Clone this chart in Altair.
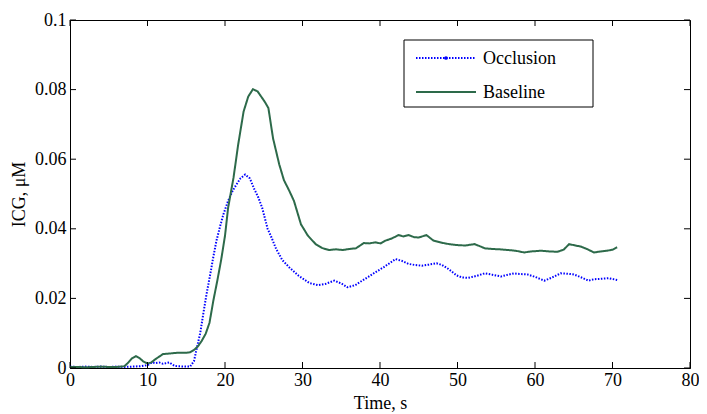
import altair as alt
import pandas as pd

# ---- data ----
t_base = [0, 1, 2, 3, 4, 5, 6, 7, 7.5, 8, 8.5, 9, 9.5, 10, 10.5, 11, 12, 13, 14, 15, 15.5, 16, 16.5, 17,
          17.5, 18, 18.5, 19, 19.5, 20, 20.4, 20.8, 21.1, 21.7, 22.4, 23, 23.6, 24.2, 25.1, 25.6, 26.2, 27,
          27.6, 28.3, 28.9, 29.8, 30.7, 31.7, 32.5, 33.4, 34.3, 35.2, 36, 36.9, 37.9, 38.6, 39.4, 40.1, 40.7,
          41.5, 42.4, 43, 43.7, 44.4, 45, 46.0, 46.9, 47.6, 48.4, 49.2, 50.1, 51, 52.2, 53, 53.5, 54.5, 55.5,
          56.5, 57.5, 58.6, 59.5, 60.8, 61.8, 62.9, 63.7, 64.4, 65.2, 65.9, 66.8, 67.6, 68.5, 69.3, 70, 70.6]
v_base = [0.0003, 0.0003, 0.0002, 0.0003, 0.0004, 0.0003, 0.0003, 0.0005, 0.0015, 0.0028, 0.0034, 0.0028,
          0.0018, 0.0013, 0.0016, 0.0025, 0.0040, 0.0042, 0.0044, 0.0044, 0.0045, 0.0052, 0.0062, 0.0078,
          0.0098, 0.0130, 0.0194, 0.0250, 0.0310, 0.0380, 0.0460, 0.0510, 0.0547, 0.0642, 0.0737, 0.0780,
          0.0801, 0.0795, 0.0766, 0.0747, 0.0660, 0.0585, 0.0540, 0.0509, 0.0480, 0.0413, 0.0380, 0.0356,
          0.0345, 0.0339, 0.0341, 0.0339, 0.0342, 0.0344, 0.0359, 0.0358, 0.0361, 0.0358, 0.0366, 0.0372,
          0.0382, 0.0378, 0.0382, 0.0376, 0.0375, 0.0382, 0.0366, 0.0362, 0.0358, 0.0355, 0.0353, 0.0352,
          0.0356, 0.0349, 0.0344, 0.0342, 0.0341, 0.0339, 0.0337, 0.0332, 0.0335, 0.0337, 0.0335, 0.0334,
          0.0340, 0.0356, 0.0352, 0.0349, 0.0341, 0.0332, 0.0335, 0.0337, 0.0340, 0.0347]

t_occ = [0, 1, 2, 3, 4, 5, 6, 7, 8, 9, 10, 10.6, 11, 11.5, 12, 12.8, 13.5, 14, 15, 15.5, 16, 16.4, 16.8,
         17.2, 17.6, 18.1, 18.5, 18.9, 19.4, 19.8, 20.4, 21, 21.5, 22, 22.6, 23.2, 23.8, 24.3, 24.8, 25.5,
         26, 26.6, 27.4, 28.3, 29.5, 30.9, 32, 33, 34.1, 35, 35.8, 36.8, 37.7, 38.5, 39.4, 40.5, 41.3, 42,
         42.8, 43.7, 44.5, 45.4, 46.3, 47.3, 48, 48.8, 49.9, 50.6, 51.4, 52.5, 53.5, 54.5, 55.6, 56.5, 57.3,
         58, 59, 60, 61.2, 62.2, 63.3, 64.2, 65, 66, 66.9, 67.6, 68.4, 69.5, 70.6]
v_occ = [0.0004, 0.0003, 0.0004, 0.0003, 0.0004, 0.0003, 0.0004, 0.0003, 0.0004, 0.0005, 0.0008, 0.0016,
         0.0014, 0.0016, 0.0012, 0.0016, 0.0006, 0.0005, 0.0004, 0.0004, 0.0020, 0.0061, 0.0100, 0.0156,
         0.0210, 0.0270, 0.0320, 0.0366, 0.0410, 0.0442, 0.0480, 0.0510, 0.0528, 0.0545, 0.0556, 0.0545,
         0.0513, 0.0490, 0.0460, 0.0400, 0.0375, 0.0342, 0.0310, 0.0289, 0.0265, 0.0244, 0.0238, 0.0242,
         0.0251, 0.0243, 0.0232, 0.0238, 0.0251, 0.0262, 0.0275, 0.0290, 0.0302, 0.0313, 0.0308, 0.0299,
         0.0296, 0.0294, 0.0297, 0.0301, 0.0296, 0.0285, 0.0266, 0.0260, 0.0259, 0.0265, 0.0272, 0.0268,
         0.0263, 0.0268, 0.0272, 0.0270, 0.0269, 0.0262, 0.0251, 0.0260, 0.0272, 0.0271, 0.0269, 0.0260,
         0.0251, 0.0255, 0.0256, 0.0258, 0.0253]

series_names = ["Occlusion", "Baseline"]
series_colors = ["#0000FF", "#2D6A4A"]
x_ticks = [0, 10, 20, 30, 40, 50, 60, 70, 80]
y_ticks = [0, 0.02, 0.04, 0.06, 0.08, 0.1]

# ---- build tables ----
df = pd.concat([
    pd.DataFrame({"t": t_occ, "v": v_occ, "series": series_names[0]}),
    pd.DataFrame({"t": t_base, "v": v_base, "series": series_names[1]}),
], ignore_index=True)
df["order"] = range(len(df))

W, H = 620, 348
FONT = "Liberation Serif"
TL = 6  # tick length

xscale = alt.Scale(domain=[0, 80], nice=False, zero=False)
yscale = alt.Scale(domain=[0, 0.1], nice=False, zero=False)
xaxis = alt.Axis(values=x_ticks, title="Time, s", format="d", labelPadding=3, titlePadding=5,
                 labelFlush=False)
yaxis = alt.Axis(values=y_ticks, title="ICG, μM", format="~g", labelPadding=4, titlePadding=6,
                 labelFlush=False)

lines = alt.Chart(df).mark_line(interpolate="linear").encode(
    x=alt.X("t:Q", scale=xscale, axis=xaxis),
    y=alt.Y("v:Q", scale=yscale, axis=yaxis),
    color=alt.Color("series:N", scale=alt.Scale(domain=series_names, range=series_colors), legend=None),
    strokeDash=alt.StrokeDash("series:N",
                              scale=alt.Scale(domain=series_names, range=[[1.5, 1.5], [1, 0]]),
                              legend=None),
    strokeWidth=alt.value(2),
    order="order:Q",
)

xt = pd.DataFrame({"t": x_ticks})
yt = pd.DataFrame({"v": y_ticks})

xticks_bottom = alt.Chart(xt).mark_rule(color="black", strokeWidth=1).encode(
    x=alt.X("t:Q", scale=xscale, axis=xaxis),
    y=alt.value(H), y2=alt.value(H - TL))
xticks_top = alt.Chart(xt).mark_rule(color="black", strokeWidth=1).encode(
    x=alt.X("t:Q", scale=xscale, axis=xaxis),
    y=alt.value(0), y2=alt.value(TL))
yticks_left = alt.Chart(yt).mark_rule(color="black", strokeWidth=1).encode(
    y=alt.Y("v:Q", scale=yscale, axis=yaxis),
    x=alt.value(0), x2=alt.value(TL))
yticks_right = alt.Chart(yt).mark_rule(color="black", strokeWidth=1).encode(
    y=alt.Y("v:Q", scale=yscale, axis=yaxis),
    x=alt.value(W), x2=alt.value(W - TL))

# ---- legend box (drawn in pixel space of the plot area) ----
LX0, LX1, LY0, LY1 = 334, 523, 20, 87
ROW_Y = [38, 72]
leg_df = pd.DataFrame({"name": series_names})

legend_box = alt.Chart(leg_df.head(1)).mark_rect(fill="white", stroke="black", strokeWidth=1).encode(
    x=alt.value(LX0), x2=alt.value(LX1), y=alt.value(LY0), y2=alt.value(LY1))

legend_layers = [legend_box]
for i, name in enumerate(series_names):
    row = leg_df.iloc[[i]]
    dash = [1.5, 1.5] if i == 0 else [1, 0]
    legend_layers.append(
        alt.Chart(row).mark_rule(color=series_colors[i], strokeWidth=2, strokeDash=dash).encode(
            x=alt.value(LX0 + 12), x2=alt.value(LX0 + 72), y=alt.value(ROW_Y[i])))
    legend_layers.append(
        alt.Chart(row).mark_text(align="left", baseline="middle", font=FONT, fontSize=18,
                                 color="black").encode(
            x=alt.value(LX0 + 79), y=alt.value(ROW_Y[i] + 1), text="name:N"))
legend_layers.append(
    alt.Chart(leg_df.head(1)).mark_point(filled=True, color=series_colors[0], size=14, opacity=1).encode(
        x=alt.value(LX0 + 42), y=alt.value(ROW_Y[0])))

chart = alt.layer(lines, xticks_bottom, xticks_top, yticks_left, yticks_right, *legend_layers).properties(
    width=W, height=H,
    autosize=alt.AutoSizeParams(type="none"),
    padding={"left": 62, "top": 12, "right": 9, "bottom": 46},
    background="white",
).configure_view(
    stroke="black", strokeWidth=1
).configure_axis(
    grid=False, ticks=False, domain=True, domainColor="black", domainWidth=1,
    labelFont=FONT, labelFontSize=18, labelColor="black",
    titleFont=FONT, titleFontSize=18, titleFontWeight="normal", titleColor="black",
)

chart.save("out.html", embed_options={"renderer": "svg", "actions": False})
